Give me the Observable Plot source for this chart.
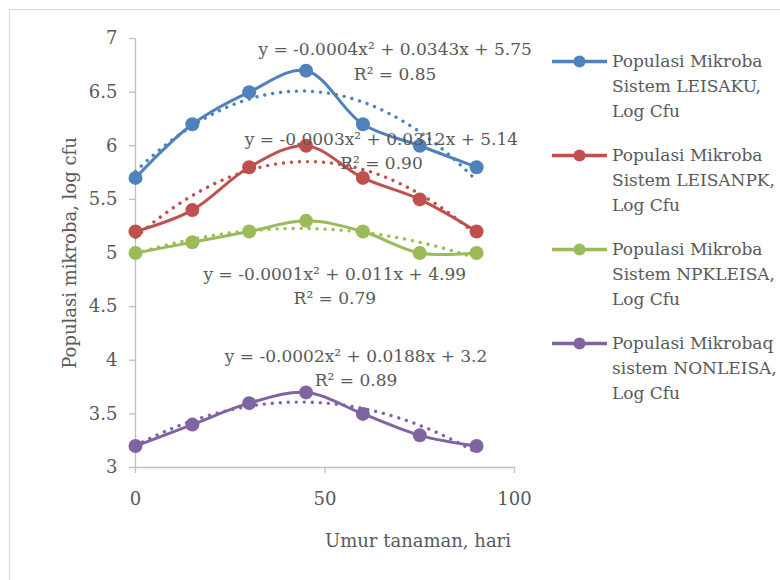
<!DOCTYPE html>
<html>
<head>
<meta charset="utf-8">
<script src="https://cdn.jsdelivr.net/npm/d3@7"></script>
<script src="https://cdn.jsdelivr.net/npm/@observablehq/plot@0.6"></script>
<style>
  html, body { margin: 0; padding: 0; background: #fff; }
  #wrap { position: relative; width: 780px; height: 580px; overflow: hidden; background: #fff; }
  #border { position: absolute; left: 9px; top: 9px; width: 800px; height: 600px; border: 1px solid #d9d9d9; box-sizing: border-box; }
  #chart { position: absolute; left: 0; top: 0; }
  .legend-item { position: absolute; left: 552px; display: flex; align-items: flex-start; font-family: "DejaVu Serif", serif; font-size: 17px; line-height: 25px; color: #595959; white-space: nowrap; }
  .legend-item svg { flex: none; margin-right: 5px; }
</style>
</head>
<body>
<div id="wrap">
  <div id="border"></div>
  <div id="chart"></div>
  <div id="legend"></div>
</div>
<script>
// ---- data ----
const days = [0, 15, 30, 45, 60, 75, 90];
const leisaku = [5.7, 6.2, 6.5, 6.7, 6.2, 6.0, 5.8];
const leisanpk = [5.2, 5.4, 5.8, 6.0, 5.7, 5.5, 5.2];
const npkleisa = [5.0, 5.1, 5.2, 5.3, 5.2, 5.0, 5.0];
const nonleisa = [3.2, 3.4, 3.6, 3.7, 3.5, 3.3, 3.2];
const seriesNames = [
  "Populasi Mikroba\nSistem LEISAKU,\nLog Cfu",
  "Populasi Mikroba\nSistem LEISANPK,\nLog Cfu",
  "Populasi Mikroba\nSistem NPKLEISA,\nLog Cfu",
  "Populasi Mikrobaq\nsistem NONLEISA,\nLog Cfu"
];
const seriesColors = ["#4F81BD", "#C0504D", "#9BBB59", "#8064A2"];
const equations = [
  "y = -0.0004x² + 0.0343x + 5.75",
  "y = -0.0003x² + 0.0312x + 5.14",
  "y = -0.0001x² + 0.011x + 4.99",
  "y = -0.0002x² + 0.0188x + 3.2"
];
const rSquared = ["R² = 0.85", "R² = 0.90", "R² = 0.79", "R² = 0.89"];
const xTicks = [0, 50, 100];
const yTicks = [3, 3.5, 4, 4.5, 5, 5.5, 6, 6.5, 7];
const xTitle = "Umur tanaman, hari";
const yTitle = "Populasi mikroba, log cfu";

// ---- build tables ----
const allValues = [leisaku, leisanpk, npkleisa, nonleisa];
const rows = [];
allValues.forEach((vals, s) => vals.forEach((v, i) => rows.push({series: seriesNames[s], x: days[i], y: v})));

// least-squares quadratic fit (Excel polynomial trendline, order 2)
function quadFit(xs, ys) {
  const S = k => d3.sum(xs, x => x ** k);
  const T = k => d3.sum(xs, (x, i) => x ** k * ys[i]);
  const A = [[S(4), S(3), S(2), T(2)], [S(3), S(2), S(1), T(1)], [S(2), S(1), S(0), T(0)]];
  for (let c = 0; c < 3; c++) {
    for (let r = c + 1; r < 3; r++) {
      const f = A[r][c] / A[c][c];
      for (let k = c; k < 4; k++) A[r][k] -= f * A[c][k];
    }
  }
  const sol = [0, 0, 0];
  for (let r = 2; r >= 0; r--) {
    let s = A[r][3];
    for (let k = r + 1; k < 3; k++) s -= A[r][k] * sol[k];
    sol[r] = s / A[r][r];
  }
  return sol; // [a2, a1, a0]
}
const trendRows = [];
allValues.forEach((vals, s) => {
  const [a2, a1, a0] = quadFit(days, vals);
  const x0 = d3.min(days), x1 = d3.max(days);
  for (let i = 0; i <= 180; i++) {
    const x = x0 + (x1 - x0) * i / 180;
    trendRows.push({series: seriesNames[s], x, y: a2 * x * x + a1 * x + a0});
  }
});

// annotation table (label positions in data space)
const annoX = [68.5, 64.9, 52.6, 58.2];
const annoYEq = [6.901, 6.059, 4.803, 4.032];
const annoYR = [6.665, 5.835, 4.577, 3.808];
const annos = [];
equations.forEach((e, i) => {
  annos.push({text: e, x: annoX[i], y: annoYEq[i]});
  annos.push({text: rSquared[i], x: annoX[i], y: annoYR[i]});
});

const gray = "#595959";
const axisGray = "#bfbfbf";

const plot = Plot.plot({
  width: 780,
  height: 580,
  marginLeft: 135,
  marginRight: 266,
  marginTop: 38,
  marginBottom: 113,
  style: {background: "transparent", fontFamily: "DejaVu Serif, serif", fontSize: "18px", color: gray, overflow: "visible"},
  x: {domain: [0, 100]},
  y: {domain: [3, 7]},
  color: {domain: seriesNames, range: seriesColors},
  marks: [
    Plot.ruleX([0], {stroke: axisGray, strokeWidth: 1.3}),
    Plot.ruleY([3], {stroke: axisGray, strokeWidth: 1.3}),
    Plot.axisY({ticks: yTicks, tickFormat: d => String(d), tickSize: 6, tickPadding: 12, stroke: axisGray, strokeWidth: 1.3, label: null, fill: gray}),
    Plot.axisX({ticks: xTicks, tickFormat: d => String(d), tickSize: 6, tickPadding: 19, stroke: axisGray, strokeWidth: 1.3, label: null, fill: gray}),
    Plot.line(rows, {x: "x", y: "y", z: "series", stroke: "series", strokeWidth: 3, curve: "catmull-rom"}),
    Plot.dot(rows, {x: "x", y: "y", fill: "series", r: 7}),
    Plot.line(trendRows, {x: "x", y: "y", z: "series", stroke: "series", strokeWidth: 3.4, strokeDasharray: "0.01 8", strokeLinecap: "round"}),
    Plot.text(annos, {x: "x", y: "y", text: "text", fill: gray, fontSize: 17, textAnchor: "middle"}),
    Plot.text([xTitle], {frameAnchor: "bottom", textAnchor: "middle", dx: 93, dy: 79, fill: gray, fontSize: 18}),
    Plot.text([yTitle], {frameAnchor: "left", textAnchor: "middle", dx: -65, rotate: -90, fill: gray, fontSize: 18})
  ]
});
document.getElementById("chart").appendChild(plot);

// ---- legend ----
const legend = document.getElementById("legend");
seriesNames.forEach((name, i) => {
  const item = document.createElement("div");
  item.className = "legend-item";
  item.style.top = (48.6 + i * 94) + "px";
  const c = seriesColors[i];
  item.innerHTML = `<svg width="55" height="25"><line x1="0" x2="55" y1="12.4" y2="12.4" stroke="${c}" stroke-width="3.5"/><circle cx="27.5" cy="12.4" r="6" fill="${c}"/></svg>`;
  const t = document.createElement("div");
  t.innerHTML = name.split("\n").join("<br>");
  item.appendChild(t);
  legend.appendChild(item);
});
</script>
</body>
</html>
